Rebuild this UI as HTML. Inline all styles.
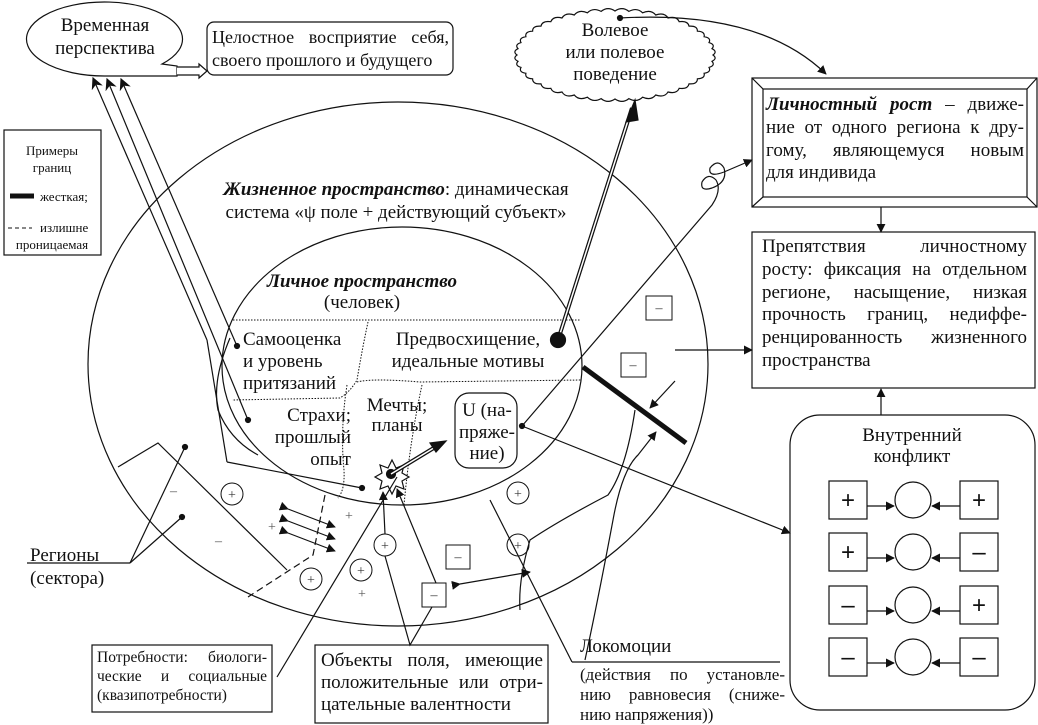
<!DOCTYPE html>
<html><head><meta charset="utf-8">
<style>
body{margin:0;background:#fff;}
#wrap{position:relative;width:1038px;height:725px;overflow:hidden;font-family:"Liberation Serif",serif;color:#111;}
svg{position:absolute;left:0;top:0;}
.p{position:absolute;font-size:19px;line-height:22.8px;}
.p div{text-align:justify;text-align-last:justify;white-space:nowrap;}
.p div.l{text-align-last:left;}
</style></head><body><div id="wrap">
<svg width="1038" height="725" viewBox="0 0 1038 725" font-family="Liberation Serif, serif" fill="none" stroke="#111" stroke-width="1.2">
<defs>
<marker id="a" viewBox="0 0 10 10" refX="9" refY="5" markerWidth="9" markerHeight="9" orient="auto" markerUnits="userSpaceOnUse"><path d="M0,0 L10,5 L0,10 z" fill="#111" stroke="none"/></marker>
<marker id="b" viewBox="0 0 10 10" refX="9" refY="5" markerWidth="12" markerHeight="12" orient="auto" markerUnits="userSpaceOnUse"><path d="M0,0 L10,5 L0,10 L3,5 z" fill="#111" stroke="none"/></marker>
</defs>
<ellipse cx="398" cy="364" rx="310" ry="262"/>
<ellipse cx="402" cy="366" rx="180" ry="139"/>
<path d="M162,64 A78,37 0 1 0 105,76 L177,76 L177,66 Z" fill="#fff"/>
<path d="M177,67 L199,67 L199,64 L207,71 L199,78 L199,75 L177,75" fill="#fff"/>
<rect x="207" y="22" width="246" height="53" rx="7"/>
<rect x="4" y="130" width="97" height="125"/>
<line x1="10" y1="196" x2="34" y2="196" stroke-width="5"/>
<line x1="8" y1="228" x2="32" y2="228" stroke-dasharray="4,3" stroke-width="1"/>
<path id="cloud" d="" fill="#fff"/>
<line x1="207" y1="340" x2="93" y2="78" marker-end="url(#b)"/>
<polyline points="227,462 207,340"/>
<polyline points="227,462 362,488"/>
<circle cx="362" cy="488" r="2.5" fill="#111"/>
<line x1="248" y1="420" x2="107" y2="79" marker-end="url(#b)"/>
<circle cx="248" cy="420" r="2.5" fill="#111"/>
<line x1="237" y1="346" x2="121" y2="79" marker-end="url(#b)"/>
<circle cx="237" cy="346" r="2.5" fill="#111"/>
<path d="M230,338 Q212,380 218,410 Q230,440 258,455"/>
<g stroke-dasharray="1.5,1.5" stroke-width="1">
<path d="M233,320 L580,320"/>
<path d="M368,322 Q362,350 357,380 Q350,392 340,398 L232,400"/>
<path d="M357,382 Q372,378 420,382 L581,380"/>
<path d="M347,385 Q340,430 344,470 Q345,490 338,498"/>
<path d="M422,385 Q410,440 404,505"/>
</g>
<polyline points="118,467 158,443 287,570"/>
<path d="M325,495 L313,555 L248,597" stroke-dasharray="7,4"/>
<line x1="27" y1="563" x2="130" y2="563"/>
<line x1="130" y1="563" x2="185" y2="447"/><circle cx="185" cy="447" r="2.5" fill="#111"/>
<line x1="130" y1="563" x2="182" y2="517"/><circle cx="182" cy="517" r="2.5" fill="#111"/>
<g marker-end="url(#a)" marker-start="url(#a)">
<line x1="288" y1="509" x2="335" y2="527"/>
<line x1="288" y1="521" x2="335" y2="539"/>
<line x1="288" y1="533" x2="335" y2="551"/>
</g>
<path d="M392,460 L396,468 L404,465 L402,473 L409,477 L402,481 L404,489 L396,486 L392,494 L388,486 L380,489 L382,481 L375,477 L382,473 L380,465 L388,468 Z" fill="#fff"/>
<circle cx="391" cy="474" r="4.5" fill="#111"/>
<line x1="391" y1="474" x2="437" y2="446" stroke-width="4"/>
<line x1="391" y1="474" x2="437" y2="446" stroke="#fff" stroke-width="1.5"/>
<path d="M446,441 L430,443 L436,452 Z" fill="#111"/>
<rect x="455" y="393" width="62" height="75" rx="14" fill="#fff"/>
<circle cx="522" cy="426" r="2.5" fill="#111"/>
<line x1="522" y1="426" x2="790" y2="533" marker-end="url(#a)"/>
<path d="M522,426 L712,205 Q722,190 716,180 Q708,172 702,182 Q700,192 712,188 Q728,182 724,168 Q718,158 710,168 Q708,178 724,172 L752,160" marker-end="url(#a)"/>
<line x1="558" y1="340" x2="632" y2="108" stroke-width="4"/>
<line x1="558" y1="340" x2="632" y2="108" stroke="#fff" stroke-width="1.5"/>
<path d="M635,100 L626,122 L638,120 Z" fill="#111"/>
<circle cx="558" cy="340" r="7.5" fill="#111"/>
<path d="M620,18 Q760,10 826,74" marker-end="url(#a)"/>
<circle cx="620" cy="18" r="2.5" fill="#111"/>
<line x1="583" y1="367" x2="686" y2="443" stroke-width="5"/>
<line x1="675" y1="381" x2="650" y2="408" marker-end="url(#a)"/>
<path d="M585,660 Q598,600 613,520 Q622,470 638,455 L656,432" marker-end="url(#a)"/>
<path d="M635,410 Q626,470 608,495 Q560,520 530,540 Q518,580 520,610"/>
<line x1="572" y1="662" x2="490" y2="500"/>
<line x1="572" y1="662" x2="780" y2="662"/>
<line x1="675" y1="350" x2="752" y2="350" marker-end="url(#a)"/>
<g font-size="14" stroke-width="1">
<circle cx="232" cy="494" r="11"/><text x="232" y="499" text-anchor="middle" fill="#333" stroke="none">+</text>
<circle cx="311" cy="579" r="11"/><text x="311" y="584" text-anchor="middle" fill="#333" stroke="none">+</text>
<circle cx="385" cy="545" r="11"/><text x="385" y="550" text-anchor="middle" fill="#333" stroke="none">+</text>
<circle cx="361" cy="570" r="11"/><text x="361" y="575" text-anchor="middle" fill="#333" stroke="none">+</text>
<circle cx="518" cy="493" r="11"/><text x="518" y="498" text-anchor="middle" fill="#333" stroke="none">+</text>
<circle cx="518" cy="545" r="11"/><text x="518" y="550" text-anchor="middle" fill="#333" stroke="none">+</text>
<rect x="646" y="296" width="26" height="24"/><text x="659" y="312" text-anchor="middle" fill="#333" stroke="none">–</text>
<rect x="621" y="353" width="25" height="24"/><text x="633" y="369" text-anchor="middle" fill="#333" stroke="none">–</text>
<rect x="446" y="545" width="24" height="24"/><text x="458" y="561" text-anchor="middle" fill="#333" stroke="none">–</text>
<rect x="422" y="583" width="24" height="24"/><text x="434" y="599" text-anchor="middle" fill="#333" stroke="none">–</text>
<g stroke="none" fill="#555"><text x="170" y="495">–</text><text x="215" y="545">–</text><text x="268" y="531">+</text><text x="345" y="520">+</text><text x="358" y="598">+</text></g>
</g>
<line x1="460" y1="584" x2="530" y2="572" marker-end="url(#a)" marker-start="url(#a)"/>
<line x1="385" y1="534" x2="383" y2="492" marker-end="url(#a)"/>
<line x1="436" y1="583" x2="397" y2="489" marker-end="url(#a)"/>
<polyline points="385,556 410,645 432,607"/>
<line x1="277" y1="677" x2="397" y2="477"/>
<rect x="752" y="78" width="285" height="129"/>
<rect x="763" y="89" width="264" height="108"/>
<path d="M752,78 L763,89 M1037,78 L1027,89 M752,207 L763,197 M1037,207 L1027,197"/>
<line x1="881" y1="207" x2="881" y2="232" marker-end="url(#a)"/>
<rect x="752" y="232" width="283" height="156"/>
<line x1="881" y1="415" x2="881" y2="389" marker-end="url(#a)"/>
<rect x="790" y="415" width="245" height="295" rx="30"/>
<rect x="92" y="645" width="180" height="67"/>
<rect x="315" y="645" width="233" height="78"/>
<g font-family="Liberation Sans, sans-serif" font-size="24"><g id="rows"></g></g>
<g fill="#111" stroke="none" font-size="19">
<text x="105" y="31" text-anchor="middle">Временная</text>
<text x="105" y="54" text-anchor="middle">перспектива</text>
<text x="52" y="155" text-anchor="middle" font-size="13">Примеры</text>
<text x="52" y="172" text-anchor="middle" font-size="13">границ</text>
<text x="40" y="201" font-size="13">жесткая;</text>
<text x="40" y="232" font-size="13">излишне</text>
<text x="52" y="249" text-anchor="middle" font-size="13">проницаемая</text>
<text x="615" y="36" text-anchor="middle">Волевое</text>
<text x="615" y="58" text-anchor="middle">или полевое</text>
<text x="615" y="80" text-anchor="middle">поведение</text>
<text x="396" y="195" text-anchor="middle"><tspan font-weight="bold" font-style="italic">Жизненное пространство</tspan>: динамическая</text>
<text x="396" y="218" text-anchor="middle">система «ψ поле + действующий субъект»</text>
<text x="362" y="287" text-anchor="middle" font-weight="bold" font-style="italic">Личное пространство</text>
<text x="362" y="308" text-anchor="middle">(человек)</text>
<text x="243" y="345">Самооценка</text>
<text x="243" y="367">и уровень</text>
<text x="243" y="389">притязаний</text>
<text x="468" y="345" text-anchor="middle">Предвосхищение,</text>
<text x="468" y="367" text-anchor="middle">идеальные мотивы</text>
<text x="351" y="421" text-anchor="end">Страхи;</text>
<text x="351" y="443" text-anchor="end">прошлый</text>
<text x="351" y="465" text-anchor="end">опыт</text>
<text x="397" y="411" text-anchor="middle">Мечты;</text>
<text x="397" y="431" text-anchor="middle">планы</text>
<text x="487" y="416" text-anchor="middle">U (на-</text>
<text x="487" y="438" text-anchor="middle">пряже-</text>
<text x="487" y="459" text-anchor="middle">ние)</text>
<text x="30" y="561">Регионы</text>
<text x="30" y="584">(сектора)</text>
<text x="580" y="652">Локомоции</text>
<text x="912" y="441" text-anchor="middle">Внутренний</text>
<text x="912" y="462" text-anchor="middle">конфликт</text>
</g>
</svg>
<div class="p" style="left:212px;top:26px;width:237px;font-size:18px;"><div>Целостное восприятие себя,</div><div class="l">своего прошлого и будущего</div></div>
<div class="p" style="left:766px;top:94px;width:258px;"><div><b><i>Личностный рост</i></b> – движе-</div><div>ние от одного региона к дру-</div><div>гому, являющемуся новым</div><div class="l">для индивида</div></div>
<div class="p" style="left:762px;top:236px;width:265px;"><div>Препятствия личностному</div><div>росту: фиксация на отдельном</div><div>регионе, насыщение, низкая</div><div>прочность границ, недиффе-</div><div>ренцированность жизненного</div><div class="l">пространства</div></div>
<div class="p" style="left:97px;top:648px;width:170px;font-size:15.5px;line-height:19px;"><div>Потребности: биологи-</div><div>ческие и социальные</div><div class="l">(квазипотребности)</div></div>
<div class="p" style="left:321px;top:650px;width:222px;line-height:22px;"><div>Объекты поля, имеющие</div><div>положительные или отри-</div><div class="l">цательные валентности</div></div>
<div class="p" style="left:580px;top:665px;width:205px;font-size:17px;line-height:20px;"><div>(действия по установле-</div><div>нию равновесия (сниже-</div><div class="l">нию напряжения))</div></div>
<script>
(function(){
 var cx=615,cy=55,rx=98,ry=44,n=44,d='';
 for(var i=0;i<=n;i++){var t=i/n*2*Math.PI;var x=cx+rx*Math.cos(t),y=cy+ry*Math.sin(t);
  if(i==0){d+='M'+x.toFixed(1)+','+y.toFixed(1);}else{var tm=(i-0.5)/n*2*Math.PI;var qx=cx+(rx+5)*Math.cos(tm),qy=cy+(ry+5)*Math.sin(tm);d+=' Q'+qx.toFixed(1)+','+qy.toFixed(1)+' '+x.toFixed(1)+','+y.toFixed(1);}}
 document.getElementById('cloud').setAttribute('d',d+'Z');
 var rows=[['+','+'],['+','–'],['–','+'],['–','–']],ys=[500,552,605,657],h='';
 for(var k=0;k<4;k++){var y=ys[k];
  h+='<rect x="829" y="'+(y-19)+'" width="38" height="38" fill="none"/>';
  h+='<rect x="960" y="'+(y-19)+'" width="38" height="38" fill="none"/>';
  h+='<circle cx="913" cy="'+y+'" r="18" fill="none"/>';
  h+='<line x1="867" y1="'+(y+6)+'" x2="894" y2="'+(y+6)+'" marker-end="url(#a)"/>';
  h+='<line x1="960" y1="'+(y+6)+'" x2="932" y2="'+(y+6)+'" marker-end="url(#a)"/>';
  h+='<text x="848" y="'+(y+8)+'" text-anchor="middle" fill="#111" stroke="none">'+rows[k][0]+'</text>';
  h+='<text x="979" y="'+(y+8)+'" text-anchor="middle" fill="#111" stroke="none">'+rows[k][1]+'</text>';}
 document.getElementById('rows').innerHTML=h;
})();
</script>
</div></body></html>
